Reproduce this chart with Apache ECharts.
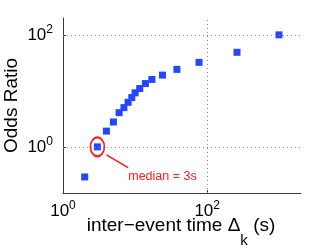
<!DOCTYPE html>
<html><head><meta charset="utf-8">
<script src="https://cdn.jsdelivr.net/npm/echarts@6/dist/echarts.min.js"></script>
<style>html,body{margin:0;padding:0;background:#fff}#c{width:332px;height:250px}</style>
</head><body><div id="c"></div>
<script>
// ---- data ----
const interEventTimes = [2, 3, 4, 5, 6, 7, 8, 9, 10, 11.6, 13.9, 17.1, 24, 38, 77, 259, 990];
const oddsRatios      = [0.29, 1.0, 1.91, 2.78, 4.08, 5.02, 6.25, 7.59, 9.22, 11.0, 13.5, 16.0, 19.1, 24.2, 32.3, 48.8, 100];
const xTickValues = [1, 100];
const yTickValues = [1, 100];
const xRange = [1, 2000];
const yRange = [0.15, 200];
const medianPoint = [3, 1];
const arrowTail = [8.0, 0.425];
const arrowHead = [4.0, 0.718];
const noteAnchor = [7.9, 0.30];
const noteText = 'median = 3s';
const xTitleParts = ['inter\u2212event time \u0394', 'k', ' (s)'];
const yTitle = 'Odds Ratio';

// ---- chart ----
const FONT = '"Liberation Sans", Arial, Helvetica, sans-serif';
const AXIS_COLOR = '#3a3a3a';
const GRID_COLOR = '#8c8c8c';
const points = interEventTimes.map((x, i) => [x, oddsRatios[i]]);

const powLabel = v => '{b|10}{e|' + Math.round(Math.log10(v)) + '}';
const powRich = {
  b: {fontSize: 17, lineHeight: 20, verticalAlign: 'middle', fontFamily: FONT, color: '#000'},
  e: {fontSize: 12, lineHeight: 14, padding: [0, 0, 11, 0], verticalAlign: 'middle', fontFamily: FONT, color: '#000'}
};

function axisCommon(ticks, range) {
  return {
    type: 'log', logBase: 10, min: range[0], max: range[1],
    nameMoveOverlap: false,
    axisLine: {show: true, lineStyle: {color: AXIS_COLOR, width: 1}},
    axisTick: {show: true, inside: true, length: 3, customValues: ticks, lineStyle: {color: AXIS_COLOR}},
    axisLabel: {customValues: ticks, formatter: powLabel, rich: powRich, fontFamily: FONT, hideOverlap: false},
    splitLine: {show: false},
    minorTick: {show: false}, minorSplitLine: {show: false}
  };
}

const xAxis = Object.assign(axisCommon(xTickValues, xRange), {
  name: '{m|' + xTitleParts[0] + '}{s|' + xTitleParts[1] + '}{m|' + xTitleParts[2] + '}',
  nameLocation: 'middle', nameGap: 22,
  nameTextStyle: {
    fontFamily: FONT, color: '#000', padding: [0, 2, 0, 0],
    rich: {
      m: {fontSize: 19, lineHeight: 22, verticalAlign: 'middle', fontFamily: FONT, color: '#000'},
      s: {fontSize: 15, lineHeight: 17, padding: [30, 0, 0, 0], verticalAlign: 'middle', fontFamily: FONT, color: '#000'}
    }
  }
});
xAxis.axisLabel.margin = 8;

const yAxis = Object.assign(axisCommon(yTickValues, yRange), {
  name: yTitle, nameLocation: 'middle', nameGap: 42,
  nameTextStyle: {fontFamily: FONT, fontSize: 19, color: '#000'}
});
yAxis.axisLabel.margin = 10;

// grid lines at the tick values that are not on the axis lines
const gridLineData = []
  .concat(xTickValues.filter(v => v > xRange[0]).map(v => ({xAxis: v})))
  .concat(yTickValues.filter(v => v > yRange[0]).map(v => ({yAxis: v})));

const RED = '#ff1a1a';
const chart = echarts.init(document.getElementById('c'), null, {renderer: 'canvas'});
chart.setOption({
  animation: false,
  backgroundColor: '#fff',
  grid: {left: 63, right: 31, top: 18, bottom: 57, containLabel: false, outerBoundsMode: 'none'},
  xAxis: xAxis,
  yAxis: yAxis,
  series: [{
    type: 'scatter',
    data: points,
    symbol: 'rect',
    symbolSize: 7,
    itemStyle: {color: '#2346ff', opacity: 1},
    z: 3,
    markPoint: {
      silent: true,
      animation: false,
      data: [
        {coord: medianPoint, symbol: 'circle', symbolSize: [14, 19],
         itemStyle: {color: 'rgba(0,0,0,0)', borderColor: RED, borderWidth: 1.8},
         label: {show: false}},
        {coord: noteAnchor, symbol: 'rect', symbolSize: 1,
         itemStyle: {color: 'rgba(0,0,0,0)'},
         label: {show: true, position: 'right', distance: 0, formatter: noteText,
                 color: RED, fontSize: 12.5, fontFamily: FONT}}
      ]
    },
    markLine: {
      silent: true,
      animation: false,
      symbol: ['none', 'arrow'],
      symbolSize: [0, 9],
      lineStyle: {color: RED, width: 1.6, type: 'solid'},
      label: {show: false},
      data: [[{coord: arrowTail}, {coord: arrowHead}]]
    }
  }, {
    type: 'line',
    data: [],
    silent: true,
    z: 1,
    markLine: {
      silent: true,
      animation: false,
      symbol: ['none', 'none'],
      label: {show: false},
      lineStyle: {color: GRID_COLOR, type: [1, 3], width: 1},
      data: gridLineData
    }
  }]
});
</script>
</body></html>
